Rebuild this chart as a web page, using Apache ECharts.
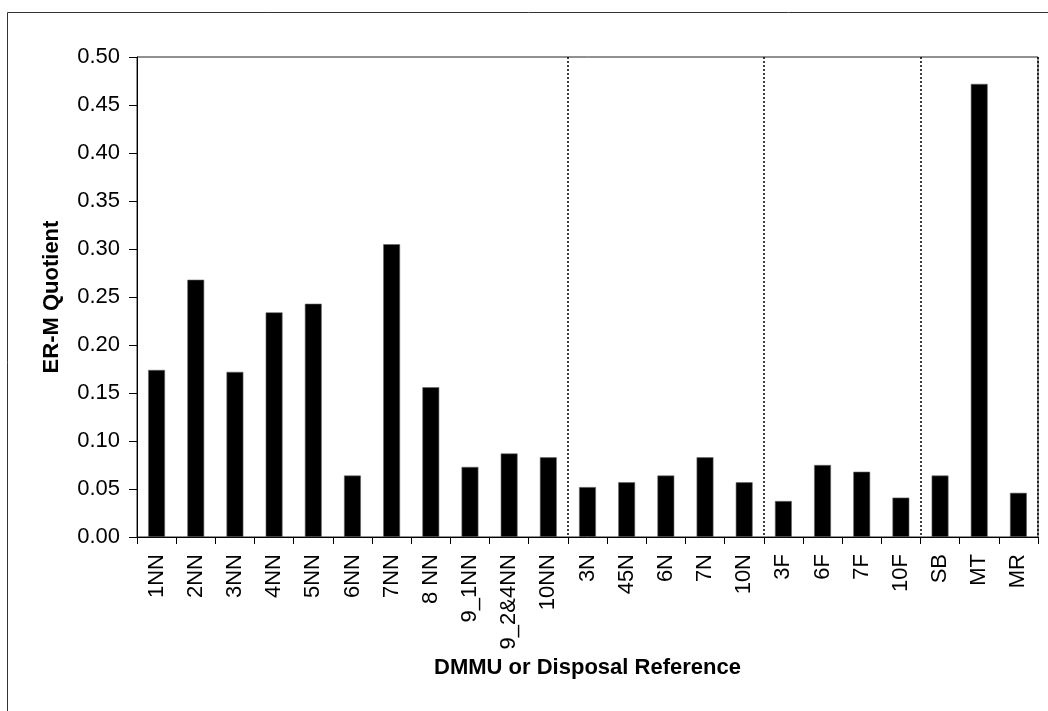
<!DOCTYPE html>
<html>
<head>
<meta charset="utf-8">
<script src="https://cdn.jsdelivr.net/npm/echarts@6/dist/echarts.min.js"></script>
<style>
  html, body { margin: 0; padding: 0; background: #fff; }
  #chart { width: 1048px; height: 711px; }
</style>
</head>
<body>
<div id="chart"></div>
<script>
// Category groups (dotted separators are drawn between groups)
const groupNN = ['1NN', '2NN', '3NN', '4NN', '5NN', '6NN', '7NN', '8 NN', '9_1NN', '9_2&4NN', '10NN'];
const groupN = ['3N', '45N', '6N', '7N', '10N'];
const groupF = ['3F', '6F', '7F', '10F'];
const groupOther = ['SB', 'MT', 'MR'];

// ER-M quotient per DMMU / disposal reference
const valuesNN = [0.174, 0.268, 0.172, 0.234, 0.243, 0.064, 0.305, 0.156, 0.073, 0.087, 0.083];
const valuesN = [0.052, 0.057, 0.064, 0.083, 0.057];
const valuesF = [0.0375, 0.075, 0.068, 0.041];
const valuesOther = [0.064, 0.472, 0.046];

const yTicks = [0, 0.05, 0.10, 0.15, 0.20, 0.25, 0.30, 0.35, 0.40, 0.45, 0.50];

const groups = [groupNN, groupN, groupF, groupOther];
const categories = [].concat(...groups);
const values = [].concat(valuesNN, valuesN, valuesF, valuesOther);

// indices of the first category of each group after the first
const separators = [];
let acc = 0;
groups.forEach((g, i) => { if (i > 0) separators.push(acc); acc += g.length; });

const font = "'Liberation Sans', Arial, sans-serif";
const chart = echarts.init(document.getElementById('chart'), null, { renderer: 'canvas' });

chart.setOption({
  animation: false,
  backgroundColor: '#ffffff',
  graphic: [{
    type: 'rect',
    shape: { x: 7.5, y: 12.5, width: 1100, height: 800 },
    style: { fill: 'none', stroke: '#333', lineWidth: 1 },
    silent: true
  }],
  grid: {
    left: 137, top: 57, width: 901, height: 480,
    show: true, borderColor: '#222', borderWidth: 1, backgroundColor: 'transparent'
  },
  xAxis: {
    type: 'category',
    data: categories,
    boundaryGap: true,
    name: 'DMMU or Disposal Reference',
    nameLocation: 'middle',
    nameGap: 119,
    nameTextStyle: { fontFamily: font, fontWeight: 'bold', fontSize: 22, color: '#000' },
    axisLine: { lineStyle: { color: '#000', width: 1 } },
    axisTick: { show: true, alignWithLabel: false, length: 7, lineStyle: { color: '#000' } },
    axisLabel: {
      rotate: 90, interval: 0, margin: 17,
      fontFamily: font, fontSize: 22, color: '#000'
    },
    splitLine: {
      show: true,
      interval: (index) => separators.includes(index),
      lineStyle: { color: '#000', type: [2, 2], width: 1.5 }
    }
  },
  yAxis: {
    type: 'value',
    min: 0, max: 0.5, interval: 0.05,
    name: 'ER-M Quotient',
    nameLocation: 'middle',
    nameGap: 74,
    nameRotate: 90,
    nameTextStyle: { fontFamily: font, fontWeight: 'bold', fontSize: 22, color: '#000' },
    axisLine: { show: true, lineStyle: { color: '#000', width: 1 } },
    axisTick: { show: true, length: 8, lineStyle: { color: '#000' } },
    axisLabel: {
      margin: 17, fontFamily: font, fontSize: 22, color: '#000',
      formatter: (v) => {
        const t = yTicks.find(x => Math.abs(x - v) < 1e-9);
        return (t !== undefined ? t : v).toFixed(2);
      }
    },
    splitLine: { show: false }
  },
  series: [{
    type: 'bar',
    data: values,
    barWidth: '43%',
    itemStyle: { color: '#000', borderColor: '#666', borderWidth: 0.6 }
  }]
});
</script>
</body>
</html>
